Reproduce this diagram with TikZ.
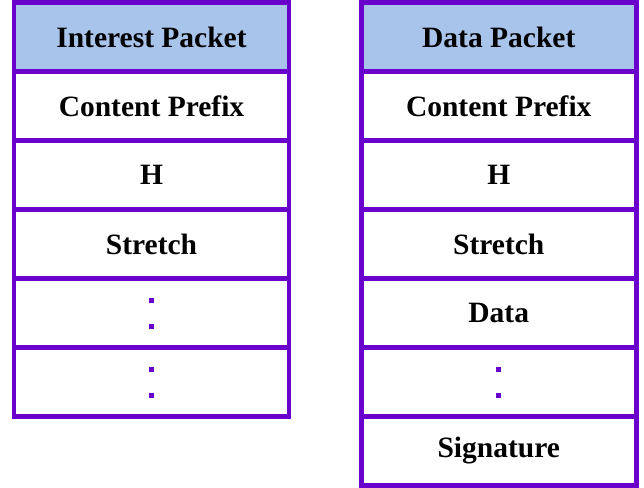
\documentclass[tikz,border=0pt]{standalone}
\usepackage{fontspec}
\setmainfont{Liberation Serif}
\usetikzlibrary{positioning}

\definecolor{fieldline}{HTML}{6A00CC}
\definecolor{headfill}{HTML}{A9C4EB}

\tikzset{
    field/.style={draw=fieldline, line width=4.5pt, minimum width=275pt,
        minimum height=69pt, inner sep=0pt, outer sep=0pt,
        font=\fontsize{29.5}{32}\selectfont\bfseries},
    head/.style={field, fill=headfill},
    dotsq/.style={fill=fieldline, minimum size=5pt, inner sep=0pt, outer sep=0pt}
}

\begin{document}
\begin{tikzpicture}
                \useasboundingbox (0,0) rectangle (644pt,-487pt);
                % interest packet
                \node[head, anchor=north] (i1) at (151.5pt,-2.5pt) {Interest Packet};
                \node[field, below=0pt of i1] (i2) {Content Prefix};
                \node[field, below=0pt of i2] (i3) {H};
                \node[field, below=0pt of i3] (i4) {Stretch};
                \node[field, below=0pt of i4] (i5) {};
                \node[field, below=0pt of i5] (i6) {};
                \node[dotsq] (i5a) at ([yshift=13pt]i5.center) {};
                \node[dotsq] (i5b) at ([yshift=-13pt]i5.center) {};
                \node[dotsq] (i6a) at ([yshift=13pt]i6.center) {};
                \node[dotsq] (i6b) at ([yshift=-13pt]i6.center) {};
                % data packet
                \node[head, anchor=north] (d1) at (498.75pt,-2.5pt) {Data Packet};
                \node[field, below=0pt of d1] (d2) {Content Prefix};
                \node[field, below=0pt of d2] (d3) {H};
                \node[field, below=0pt of d3] (d4) {Stretch};
                \node[field, below=0pt of d4] (d5) {Data};
                \node[field, below=0pt of d5] (d6) {};
                \node[field, below=0pt of d6] (d7) {Signature};
                \node[dotsq] (d6a) at ([yshift=13pt]d6.center) {};
                \node[dotsq] (d6b) at ([yshift=-13pt]d6.center) {};
\end{tikzpicture}
\end{document}
